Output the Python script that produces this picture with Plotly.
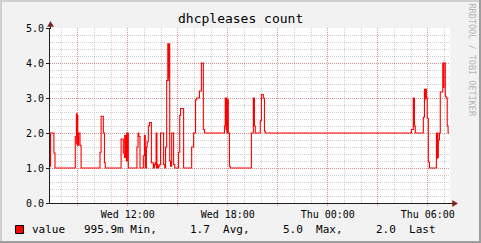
import plotly.graph_objects as go

# ---------------- data ----------------
W = "2024-01-03 "
T = "2024-01-04 "
times = [
    W+"07:20", W+"07:22", W+"07:34", W+"07:38", W+"08:51", W+"08:55", W+"08:56", W+"08:57",
    W+"08:58", W+"08:59", W+"09:00", W+"09:03", W+"09:08", W+"09:12", W+"10:20", W+"10:24",
    W+"10:32", W+"10:36", W+"10:39", W+"11:36", W+"11:44", W+"11:48", W+"11:49", W+"11:50",
    W+"11:51", W+"11:52", W+"11:53", W+"11:55", W+"11:56", W+"11:57", W+"11:58", W+"11:59",
    W+"12:00", W+"12:02", W+"12:33", W+"12:37", W+"12:40", W+"12:44", W+"12:56", W+"13:00",
    W+"13:03", W+"13:07", W+"13:10", W+"13:14", W+"13:18", W+"13:25", W+"13:32", W+"13:36",
    W+"13:39", W+"13:42", W+"13:43", W+"13:44", W+"13:45", W+"13:48", W+"13:51", W+"13:55",
    W+"13:58", W+"14:09", W+"14:13", W+"14:16", W+"14:20", W+"14:24", W+"14:25", W+"14:26",
    W+"14:27", W+"14:28", W+"14:31", W+"14:34", W+"14:38", W+"14:45", W+"14:49", W+"15:03",
    W+"15:07", W+"15:10", W+"15:21", W+"15:50", W+"15:57", W+"16:04", W+"16:08", W+"16:18",
    W+"16:25", W+"16:32", W+"16:36", W+"17:48", W+"17:51", W+"17:52", W+"17:53", W+"17:54",
    W+"17:55", W+"17:57", W+"17:58", W+"17:59", W+"18:00", W+"18:02", W+"18:06", W+"18:09",
    W+"19:25", W+"19:32", W+"19:33", W+"19:34", W+"19:36", W+"19:39", W+"19:57", W+"20:01",
    W+"20:08", W+"20:12", W+"20:15", T+"05:01", T+"05:08", T+"05:09", T+"05:10", T+"05:12",
    T+"05:15", T+"05:44", T+"05:48", T+"05:49", T+"05:50", T+"05:51", T+"05:52", T+"05:55",
    T+"05:58", T+"06:02", T+"06:06", T+"06:31", T+"06:32", T+"06:33", T+"06:34", T+"06:35",
    T+"06:36", T+"06:38", T+"06:42", T+"06:45", T+"06:54", T+"06:55", T+"06:56", T+"06:57",
    T+"06:58", T+"07:03", T+"07:06", T+"07:10", T+"07:13", T+"07:17",
]
values = [
    1.05, 2.0, 1.43, 1.0, 1.9, 2.55, 1.7, 2.55,
    1.65, 2.5, 1.65, 2.0, 1.65, 1.0, 1.45, 2.48,
    2.0, 1.15, 1.0, 1.83, 1.43, 1.3, 1.93, 1.35,
    1.93, 1.3, 1.93, 1.2, 2.0, 1.2, 2.0, 1.25,
    2.0, 1.0, 1.6, 2.0, 1.9, 1.0, 1.35, 1.93,
    1.0, 1.6, 1.75, 2.2, 2.3, 1.15, 1.0, 1.1,
    1.15, 2.0, 1.0, 2.0, 1.1, 1.0, 1.05, 1.1,
    2.0, 1.1, 1.0, 1.6, 3.5, 4.55, 3.5, 4.55,
    3.6, 4.55, 1.2, 1.05, 2.0, 1.1, 1.0, 1.45,
    2.5, 2.7, 1.0, 1.6, 2.0, 2.95, 3.0, 3.2,
    4.0, 2.1, 2.0, 2.2, 3.0, 2.2, 3.0, 2.1,
    3.0, 2.0, 2.95, 2.2, 2.95, 2.0, 1.05, 1.0,
    2.0, 3.0, 2.2, 3.0, 2.2, 2.0, 2.35, 3.1,
    3.0, 2.05, 2.0, 2.1, 3.0, 2.2, 3.0, 2.2,
    2.0, 2.45, 3.25, 2.95, 3.25, 3.0, 3.25, 3.0,
    2.42, 1.17, 1.0, 2.0, 1.3, 2.0, 1.28, 2.0,
    1.3, 1.8, 2.0, 3.17, 4.0, 3.3, 4.0, 3.3,
    4.0, 3.05, 3.0, 2.2, 2.0, 2.0,
]
x_start = W + "07:20"
x_end = T + "07:20"
x_tickvals = [W+"09:00", W+"12:00", W+"15:00", W+"18:00", W+"21:00", T+"00:00", T+"03:00", T+"06:00"]
x_ticktext = ["", "Wed 12:00", "", "Wed 18:00", "", "Thu 00:00", "", "Thu 06:00"]
y_tickvals = [0, 1, 2, 3, 4, 5]
title_text = "dhcpleases count"
series_name = "value"
legend_pieces = ["value", "995.9m Min,", "1.7  Avg,", "5.0  Max,", "2.0  Last"]

# ---------------- layout helpers ----------------
FW, FH = 481, 243
L, R, TOP, B = 50, 31, 28, 40
PW, PH = FW - L - R, FH - TOP - B

def px(x):
    return (x - L) / PW

def py(y):
    return (FH - B - y) / PH

MONO = "DejaVu Sans Mono"
GRID = "rgba(143,143,143,0.42)"
MGRID = "rgba(222,79,79,0.45)"
ARROW = "#801f1f"
AXIS = "#1f1f1f"

fig = go.Figure()
fig.add_trace(go.Scatter(
    x=times, y=values, mode="lines", line=dict(color="#ff0000", width=1.1, shape="hv"),
    name=series_name, showlegend=False, hoverinfo="skip",
))

shapes = []
# frame shading
shapes.append(dict(type="rect", xref="paper", yref="paper", x0=px(0), x1=px(2), y0=py(0), y1=py(FH),
                   fillcolor="#cfcfcf", line=dict(width=0), layer="above"))
shapes.append(dict(type="rect", xref="paper", yref="paper", x0=px(0), x1=px(FW), y0=py(0), y1=py(2),
                   fillcolor="#cfcfcf", line=dict(width=0), layer="above"))
shapes.append(dict(type="rect", xref="paper", yref="paper", x0=px(FW - 2), x1=px(FW), y0=py(0), y1=py(FH),
                   fillcolor="#9e9e9e", line=dict(width=0), layer="above"))
shapes.append(dict(type="rect", xref="paper", yref="paper", x0=px(0), x1=px(FW), y0=py(FH - 2), y1=py(FH),
                   fillcolor="#9e9e9e", line=dict(width=0), layer="above"))
# axis extensions + arrows
shapes.append(dict(type="line", xref="paper", yref="paper", x0=px(50.5), x1=px(50.5), y0=py(29), y1=py(25),
                   line=dict(color=AXIS, width=1)))
shapes.append(dict(type="path", xref="paper", yref="paper",
                   path=f"M {px(50.5)} {py(21.5)} L {px(47.5)} {py(26.5)} L {px(53.5)} {py(26.5)} Z",
                   fillcolor=ARROW, line=dict(color=ARROW, width=0.5)))
shapes.append(dict(type="line", xref="paper", yref="paper", x0=px(449), x1=px(453), y0=py(203.5), y1=py(203.5),
                   line=dict(color=AXIS, width=1)))
shapes.append(dict(type="line", xref="paper", yref="paper", x0=px(47), x1=px(51), y0=py(203.5), y1=py(203.5),
                   line=dict(color=AXIS, width=1)))
shapes.append(dict(type="path", xref="paper", yref="paper",
                   path=f"M {px(457.5)} {py(203.5)} L {px(452.5)} {py(200.5)} L {px(452.5)} {py(206.5)} Z",
                   fillcolor=ARROW, line=dict(color=ARROW, width=0.5)))
# legend swatch
shapes.append(dict(type="rect", xref="paper", yref="paper", x0=px(15.5), x1=px(23.5), y0=py(225.5), y1=py(233.5),
                   fillcolor="#ff0000", line=dict(color="#000000", width=1)))

annotations = []
annotations.append(dict(text=title_text, xref="paper", yref="paper", x=px(240.5), y=py(18.5),
                        xanchor="center", yanchor="middle", showarrow=False,
                        font=dict(family=MONO, size=13, color="#000")))
legend_x = [30, 81.5, 188.3, 281, 374]
for txt, lx in zip(legend_pieces, legend_x):
    annotations.append(dict(text=txt.replace(" ", "&nbsp;"), xref="paper", yref="paper", x=px(lx), y=py(229),
                            xanchor="left", yanchor="middle", showarrow=False,
                            font=dict(family=MONO, size=11, color="#000")))
annotations.append(dict(text="RRDTOOL / TOBI OETIKER", xref="paper", yref="paper", x=px(471.5), y=py(60),
                        xanchor="center", yanchor="middle", showarrow=False, textangle=90,
                        font=dict(family=MONO, size=8.5, color="#b5b5b5")))

fig.update_layout(
    width=FW, height=FH,
    margin=dict(l=L, r=R, t=TOP, b=B, pad=0),
    paper_bgcolor="#f2f2f2", plot_bgcolor="#ffffff",
    shapes=shapes, annotations=annotations, showlegend=False,
    xaxis=dict(
        type="date", range=[x_start, x_end], tickmode="array", tickvals=x_tickvals, ticktext=x_ticktext,
        showgrid=True, gridcolor=MGRID, griddash="1px,1px", gridwidth=1,
        showline=True, linecolor=AXIS, linewidth=1, zeroline=False,
        ticks="outside", ticklen=2, tickcolor=MGRID,
        tickfont=dict(family=MONO, size=10, color="#000"),
        minor=dict(dtick=3600000, tick0=W+"00:00", showgrid=True, gridcolor=GRID, griddash="1px,1px",
                   gridwidth=1, ticks=""),
        fixedrange=True,
    ),
    yaxis=dict(
        range=[0, 5], tickmode="array", tickvals=y_tickvals, tickformat=".1f",
        showgrid=True, gridcolor=MGRID, griddash="1px,1px", gridwidth=1,
        showline=True, linecolor=AXIS, linewidth=1, zeroline=False,
        ticks="outside", ticklen=3, tickcolor=AXIS,
        tickfont=dict(family=MONO, size=10, color="#000"),
        minor=dict(dtick=0.2, showgrid=True, gridcolor=GRID, griddash="1px,1px", gridwidth=1, ticks=""),
        fixedrange=True,
    ),
)

fig.write_html("out.html", config={"displayModeBar": False})
